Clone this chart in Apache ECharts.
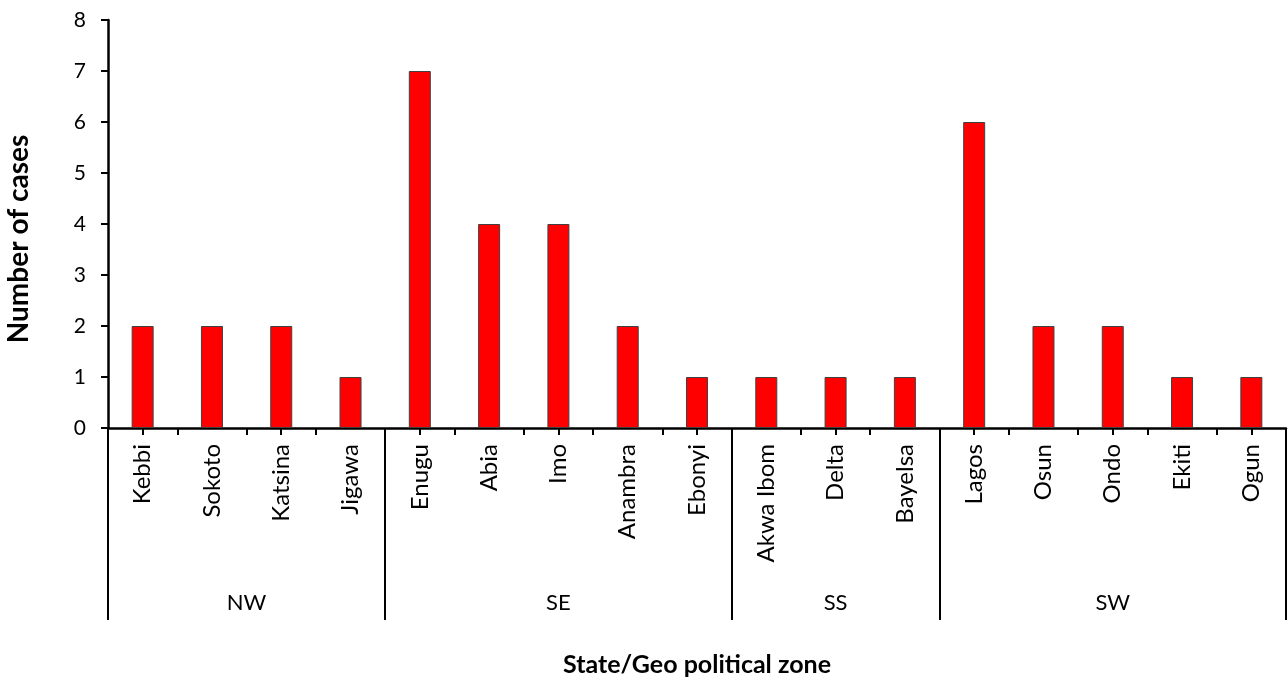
<!DOCTYPE html>
<head>
    <meta charset="utf-8">
    <title>Cases by state</title>
    <script src="https://cdn.jsdelivr.net/npm/echarts@6/dist/echarts.min.js"></script>
    <style>
      html,body{ margin:0; padding:0; background:#fff; }
      #chart{ width:1288px; height:684px; }
    </style>
</head>
<body>
    <div id="chart"></div>
    <script>
    // data
    var states = ['Kebbi', 'Sokoto', 'Katsina', 'Jigawa',
                  'Enugu', 'Abia', 'Imo', 'Anambra', 'Ebonyi',
                  'Akwa Ibom', 'Delta', 'Bayelsa',
                  'Lagos', 'Osun', 'Ondo', 'Ekiti', 'Ogun'];
    var cases = [2, 2, 2, 1, 7, 4, 4, 2, 1, 1, 1, 1, 6, 2, 2, 1, 1];
    var zones = ['NW', 'SE', 'SS', 'SW'];
    var zoneSizes = [4, 5, 3, 5];
    var yTicks = [0, 1, 2, 3, 4, 5, 6, 7, 8];

    // zone boundaries / centres in category units
    var bounds = [0], centres = [];
    var acc = 0;
    for (var i = 0; i < zoneSizes.length; i++) {
        centres.push(acc + zoneSizes[i] / 2);
        acc += zoneSizes[i];
        bounds.push(acc);
    }

    var font = 'Lato';
    var black = '#000';

    var option = {
        animation: false,
        textStyle: { fontFamily: font },
        grid: { left: 108, right: 2, top: 20, bottom: 256, containLabel: false, outerBoundsMode: 'none' },
        xAxis: [{
            type: 'category', data: states, position: 'bottom',
            axisLine: { show: true, lineStyle: { color: black, width: 2.5 } },
            axisTick: { show: true, length: 7, lineStyle: { color: black, width: 2 } },
            axisLabel: { rotate: 90, margin: 16, color: black, fontSize: 24, fontFamily: font, interval: 0 },
            splitLine: { show: false }
        }, {
            // ticks under each bar
            type: 'category', data: states, position: 'bottom',
            axisLine: { show: false },
            axisTick: { show: true, alignWithLabel: true, length: 7, lineStyle: { color: black, width: 2 } },
            axisLabel: { show: false },
            splitLine: { show: false }
        }, {
            // zone separators and labels
            type: 'value', min: 0, max: states.length, position: 'bottom',
            axisLine: { show: false },
            axisTick: { show: true, customValues: bounds, length: 192, lineStyle: { color: black, width: 2 } },
            axisLabel: {
                show: true, customValues: centres, margin: 164, color: black, fontSize: 22, fontFamily: font,
                formatter: function (v) { return zones[centres.indexOf(v)]; }
            },
            splitLine: { show: false },
            name: 'State/Geo political zone', nameLocation: 'middle', nameGap: 224,
            nameTextStyle: { color: black, fontSize: 25, fontWeight: 'bold', fontFamily: font }
        }],
        yAxis: {
            type: 'value', min: yTicks[0], max: yTicks[yTicks.length - 1], interval: 1,
            axisLine: { show: true, lineStyle: { color: black, width: 2.5 } },
            axisTick: { show: true, length: 7, lineStyle: { color: black, width: 2 } },
            axisLabel: { margin: 22, color: black, fontSize: 21, fontFamily: font },
            splitLine: { show: false },
            name: 'Number of cases', nameLocation: 'middle', nameGap: 75,
            nameTextStyle: { color: black, fontSize: 28, fontWeight: 'bold', fontFamily: font, padding: [0, 30, 0, 0] }
        },
        series: [{
            type: 'bar', data: cases, xAxisIndex: 0, barWidth: 22,
            itemStyle: { color: '#ff0000', borderColor: '#404040', borderWidth: 1 }
        }]
    };
    var chart = echarts.init(document.getElementById('chart'));
    chart.setOption(option);
    </script>
</body>
